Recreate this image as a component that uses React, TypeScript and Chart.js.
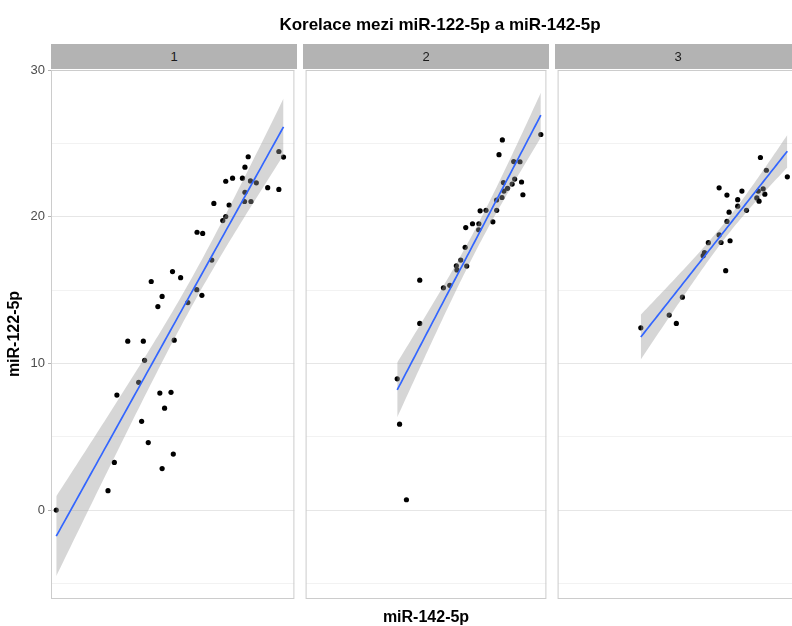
import React, { useEffect, useRef } from "react";
import { Chart, registerables } from "chart.js";

Chart.register(...registerables);

// ---------- text ----------
const TITLE = "Korelace mezi miR-122-5p a miR-142-5p";
const X_TITLE = "miR-142-5p";
const Y_TITLE = "miR-122-5p";
const PANEL_LABELS = ["1", "2", "3"];

// ---------- axes ----------
const Y_TICKS = [-5, 0, 5, 10, 15, 20, 25, 30];
const Y_MIN = -6.07;
const Y_MAX = 30.02;
const X_MIN = 0;
const X_MAX = 24.6;

// ---------- data (miR-142-5p, miR-122-5p) per facet ----------
const x1 = [0.53, 5.76, 6.4, 6.66, 7.76, 8.86, 9.16, 9.33, 9.46, 9.83, 10.13, 10.8, 11.0, 11.23, 11.23, 11.48, 12.13, 12.28, 12.36, 12.45, 13.1, 13.83, 14.73, 14.76, 15.25, 15.33, 16.25, 16.46, 17.36, 17.66, 17.66, 18.0, 18.35, 19.35, 19.6, 19.93, 20.16, 20.75, 19.6, 19.56, 20.21, 21.9, 23.03, 23.03, 23.5];
const y1 = [0.0, 1.32, 3.25, 7.84, 11.52, 8.71, 6.05, 11.52, 10.21, 4.6, 15.59, 13.88, 7.98, 14.57, 2.83, 6.95, 8.03, 16.27, 3.82, 11.59, 15.85, 14.15, 15.03, 18.95, 14.65, 18.87, 17.05, 20.92, 19.75, 20.02, 22.43, 20.81, 22.64, 22.64, 23.39, 24.1, 22.45, 22.32, 21.68, 21.05, 21.05, 21.99, 21.87, 24.46, 24.08];

const x2 = [9.36, 9.6, 10.3, 11.66, 11.66, 14.08, 14.73, 15.4, 15.46, 15.85, 16.3, 16.46, 16.36, 17.05, 17.7, 17.68, 17.83, 18.43, 19.13, 19.52, 19.51, 20.06, 20.26, 20.21, 20.63, 21.1, 21.36, 22.06, 22.2, 21.26, 21.9, 19.76, 20.1, 24.03];
const y2 = [8.95, 5.86, 0.7, 15.68, 12.73, 15.16, 15.33, 16.66, 16.38, 17.05, 17.92, 16.64, 19.27, 19.53, 19.53, 19.12, 20.41, 20.45, 19.66, 20.45, 21.15, 21.32, 21.76, 22.34, 21.95, 22.24, 22.58, 22.38, 21.51, 23.77, 23.76, 24.24, 25.25, 25.62];

const x3 = [8.5, 11.4, 12.13, 12.75, 14.87, 15.0, 15.4, 17.17, 16.5, 16.7, 17.62, 17.3, 17.52, 16.5, 17.3, 18.4, 18.4, 18.83, 19.3, 20.35, 20.58, 20.5, 21.0, 21.17, 20.72, 21.33, 23.47];
const y3 = [12.43, 13.3, 12.73, 14.52, 17.35, 17.56, 18.24, 16.33, 18.77, 18.25, 18.37, 19.69, 20.32, 21.98, 21.49, 21.17, 20.73, 21.76, 20.45, 21.29, 21.07, 21.76, 21.91, 21.55, 24.05, 23.18, 22.73];

const FONT = "'Liberation Sans', Arial, Helvetica, sans-serif";

// 97.5% quantile of Student t (Cornish-Fisher expansion)
function tQuantile975(df: number): number {
  const z = 1.959964;
  const g1 = (z ** 3 + z) / 4;
  const g2 = (5 * z ** 5 + 16 * z ** 3 + 3 * z) / 96;
  const g3 = (3 * z ** 7 + 19 * z ** 5 + 17 * z ** 3 - 15 * z) / 384;
  return z + g1 / df + g2 / df ** 2 + g3 / df ** 3;
}

function fitLm(xs: number[], ys: number[]) {
  const n = xs.length;
  const mx = xs.reduce((a, b) => a + b, 0) / n;
  const my = ys.reduce((a, b) => a + b, 0) / n;
  let sxx = 0;
  let sxy = 0;
  for (let i = 0; i < n; i++) {
    sxx += (xs[i] - mx) ** 2;
    sxy += (xs[i] - mx) * (ys[i] - my);
  }
  const b = sxy / sxx;
  const a = my - b * mx;
  let sse = 0;
  for (let i = 0; i < n; i++) sse += (ys[i] - a - b * xs[i]) ** 2;
  const s = Math.sqrt(sse / (n - 2));
  const t = tQuantile975(n - 2);
  const lo = Math.min(...xs);
  const hi = Math.max(...xs);
  const N = 80;
  const fit: { x: number; y: number }[] = [];
  const lower: { x: number; y: number }[] = [];
  const upper: { x: number; y: number }[] = [];
  for (let k = 0; k <= N; k++) {
    const x = lo + ((hi - lo) * k) / N;
    const yh = a + b * x;
    const se = s * Math.sqrt(1 / n + (x - mx) ** 2 / sxx);
    fit.push({ x, y: yh });
    lower.push({ x, y: yh - t * se });
    upper.push({ x, y: yh + t * se });
  }
  return { fit, lower, upper };
}

const borderPlugin = {
  id: "panelBorder",
  afterDraw(chart: any) {
    const { left, top, right, bottom } = chart.chartArea;
    const ctx = chart.ctx;
    ctx.save();
    ctx.strokeStyle = "#CCCCCC";
    ctx.lineWidth = 1;
    ctx.strokeRect(left + 0.5, top + 0.5, right - left - 1, bottom - top - 1);
    ctx.restore();
  },
};

const PLOT_TOP = 70;
const PLOT_BOTTOM = 599;
const PAGE_H = 626;

function Panel(props: { xs: number[]; ys: number[]; left: number; width: number; axis: boolean }) {
  const ref = useRef<HTMLCanvasElement | null>(null);
  const { xs, ys, left, width, axis } = props;
  useEffect(() => {
    if (!ref.current) return;
    const { fit, lower, upper } = fitLm(xs, ys);
    const pts = xs.map((x, i) => ({ x, y: ys[i] }));
    const chart = new Chart(ref.current, {
      type: "scatter",
      data: {
        datasets: [
          {
            type: "line",
            data: fit,
            borderColor: "#3366FF",
            borderWidth: 1.7,
            pointRadius: 0,
            fill: false,
            tension: 0,
          } as any,
          {
            type: "line",
            data: lower,
            borderColor: "rgba(0,0,0,0)",
            borderWidth: 0,
            pointRadius: 0,
            fill: false,
          } as any,
          {
            type: "line",
            data: upper,
            borderColor: "rgba(0,0,0,0)",
            borderWidth: 0,
            pointRadius: 0,
            backgroundColor: "rgba(153,153,153,0.4)",
            fill: "-1",
          } as any,
          {
            type: "scatter",
            data: pts,
            pointRadius: 2.6,
            pointHoverRadius: 2.6,
            backgroundColor: "#000000",
            borderWidth: 0,
          } as any,
        ],
      },
      options: {
        animation: false,
        responsive: false,
        maintainAspectRatio: false,
        events: [],
        layout: { padding: { top: PLOT_TOP, bottom: PAGE_H - PLOT_BOTTOM, left: 0, right: 0 } },
        plugins: {
          legend: { display: false },
          tooltip: { enabled: false },
          title: { display: false },
        },
        scales: {
          x: {
            type: "linear",
            min: X_MIN,
            max: X_MAX,
            display: false,
            grid: { display: false },
          },
          y: {
            type: "linear",
            min: Y_MIN,
            max: Y_MAX,
            display: true,
            afterBuildTicks: (s: any) => {
              s.ticks = Y_TICKS.map((v) => ({ value: v }));
            },
            afterFit: (s: any) => {
              s.width = axis ? 51 : 0;
            },
            ticks: {
              display: axis,
              color: "#4D4D4D",
              font: { family: FONT, size: 13 },
              padding: 3,
              callback: (v: any) => (Number(v) % 10 === 0 ? String(v) : ""),
            },
            grid: {
              color: (ctx: any) =>
                ctx.tick && ctx.tick.value % 10 === 0 ? "#E6E6E6" : "#F2F2F2",
              lineWidth: 1,
              drawTicks: axis,
              tickLength: 3,
              tickColor: (ctx: any) =>
                ctx.tick && ctx.tick.value % 10 === 0 ? "#B3B3B3" : "rgba(0,0,0,0)",
            },
            border: { display: false },
          },
        },
      } as any,
      plugins: [borderPlugin],
    });
    return () => chart.destroy();
  }, []);
  return (
    <canvas
      ref={ref}
      width={width}
      height={PAGE_H}
      style={{ position: "absolute", left, top: 0, width, height: PAGE_H }}
    />
  );
}

const PANELS = [
  { xs: x1, ys: y1, left: 0, width: 297, axis: true, stripLeft: 51 },
  { xs: x2, ys: y2, left: 303, width: 246, axis: false, stripLeft: 303 },
  { xs: x3, ys: y3, left: 555, width: 246, axis: false, stripLeft: 555 },
];

export default function App() {
  return (
    <div
      style={{
        position: "absolute",
        left: 0,
        top: 0,
        width: 792,
        height: 626,
        overflow: "hidden",
        background: "#FFFFFF",
        fontFamily: FONT,
      }}
    >
      {PANELS.map((p, i) => (
        <Panel key={i} xs={p.xs} ys={p.ys} left={p.left} width={p.width} axis={p.axis} />
      ))}
      {PANELS.map((p, i) => (
        <div
          key={"s" + i}
          style={{
            position: "absolute",
            left: p.stripLeft,
            top: 44,
            width: 246,
            height: 25,
            lineHeight: "25px",
            background: "#B3B3B3",
            color: "#1A1A1A",
            fontSize: 13,
            textAlign: "center",
          }}
        >
          {PANEL_LABELS[i]}
        </div>
      ))}
      <div
        style={{
          position: "absolute",
          left: 0,
          top: 15,
          width: 880,
          height: 20,
          lineHeight: "20px",
          textAlign: "center",
          fontWeight: "bold",
          fontSize: 17,
          color: "#000000",
          whiteSpace: "nowrap",
        }}
      >
        {TITLE}
      </div>
      <div
        style={{
          position: "absolute",
          left: 0,
          top: 607,
          width: 852,
          height: 20,
          lineHeight: "20px",
          textAlign: "center",
          fontWeight: "bold",
          fontSize: 16,
          color: "#000000",
          whiteSpace: "nowrap",
        }}
      >
        {X_TITLE}
      </div>
      <div
        style={{
          position: "absolute",
          left: 14 - 100,
          top: 334 - 10,
          width: 200,
          height: 20,
          lineHeight: "20px",
          textAlign: "center",
          fontWeight: "bold",
          fontSize: 16,
          color: "#000000",
          whiteSpace: "nowrap",
          transform: "rotate(-90deg)",
        }}
      >
        {Y_TITLE}
      </div>
    </div>
  );
}
